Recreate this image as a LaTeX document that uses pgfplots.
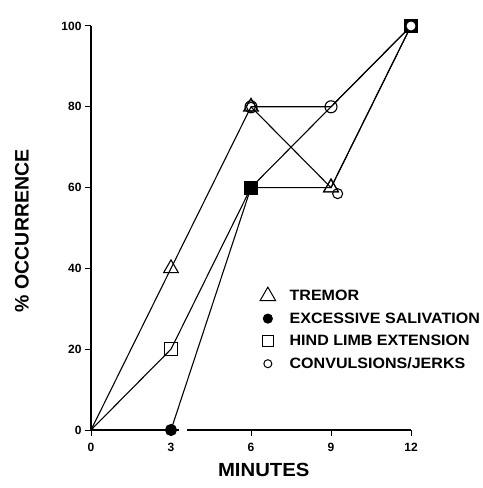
\documentclass[border=0pt]{standalone}
\usepackage{fontspec}
\setmainfont{Liberation Sans}
\newfontfamily\widefont[FakeStretch=1.07]{Liberation Sans}
\usepackage{pgfplots}
\pgfplotsset{compat=1.18}
\begin{document}
\begin{tikzpicture}
\path[use as bounding box] (-91bp,-58bp) rectangle (392bp,430bp);
\begin{axis}[
  scale only axis,
  width=320bp, height=404bp,
  xmin=0, xmax=12, ymin=0, ymax=100,
  clip=false,
  axis lines=left,
  axis line style={-, line width=1.5pt},
  x axis line style={draw=none},
  xtick={0,3,6,9,12}, ytick={0,20,40,60,80,100},
  tick align=outside,
  major tick length=6bp,
  tick style={line width=1pt, black},
  /pgf/number format/assume math mode=true,
  ticklabel style={font=\fontsize{12bp}{14bp}\selectfont\bfseries},
  xticklabel style={yshift=-4bp},
  xlabel={MINUTES},
  ylabel={\% OCCURRENCE},
  xlabel style={font=\widefont\fontsize{19bp}{21bp}\selectfont\bfseries, at={(axis description cs:0.54,-0.098)}, anchor=center},
  ylabel style={font=\fontsize{19.5bp}{21bp}\selectfont\bfseries, at={(axis description cs:-0.216,0.493)}, anchor=center},
  every axis plot/.append style={line width=1.1pt, black},
  legend style={at={(axis cs:6.22,35.9)}, anchor=north west, draw=none,
    fill=none, font=\widefont\fontsize{15bp}{17bp}\selectfont\bfseries,
    row sep=6.5bp, column sep=12bp},
  legend cell align=left,
]
\draw[line width=1.5pt] (axis cs:0,0) -- (axis cs:3.3,0);
\draw[line width=1.5pt] (axis cs:3.6,0) -- (axis cs:12,0);
% salivation line
\addplot[forget plot, mark=*, mark size=5.5bp, mark options={fill=black}, mark indices={1,2}]
  coordinates {(3,0) (6,60) (9,80) (12,100)};
% hind limb
\addplot[forget plot, mark=square, mark size=6.5bp, mark options={fill=white, line width=1.1pt}, mark indices={2,3}]
  coordinates {(0,0) (3,20) (6,60) (9,60) (12,100)};
% tremor
\addplot[forget plot, mark=triangle, mark size=8.5bp, mark options={fill=white, line width=1.1pt}, mark indices={2,3,4}]
  coordinates {(0,0) (3,40) (6,80) (9,60) (12,100)};
% convulsions
\addplot[forget plot, mark=o, mark size=6bp, mark options={fill=white, line width=1.1pt}, mark indices={1,2}]
  coordinates {(6,80) (9,80) (12,100)};
% overlay marks
\addplot[forget plot, only marks, mark=square*, mark size=6bp, mark options={fill=black}] coordinates {(6,60)};
\addplot[forget plot, only marks, mark=o, mark size=5bp, mark options={fill=white, line width=1.1pt}] coordinates {(9.25,58.5)};
\addplot[forget plot, only marks, mark=triangle, mark size=8.5bp, mark options={fill=white, line width=1.1pt}] coordinates {(9,60)};
\addplot[forget plot, only marks, mark=o, mark size=4.5bp, mark options={fill=white, line width=1.1pt}] coordinates {(6,80)};
\addplot[forget plot, only marks, mark=square*, mark size=6.5bp, mark options={fill=black}] coordinates {(12,100)};
\addplot[forget plot, only marks, mark=*, mark size=3.8bp, mark options={fill=white, draw=white}] coordinates {(12,100)};
% legend entries
\addlegendimage{only marks, mark=triangle, mark size=9bp, mark options={line width=1pt}}
\addlegendentry{TREMOR}
\addlegendimage{only marks, mark=*, mark size=4.5bp, mark options={fill=black}}
\addlegendentry{EXCESSIVE SALIVATION}
\addlegendimage{only marks, mark=square, mark size=5.3bp, mark options={line width=1pt}}
\addlegendentry{HIND LIMB EXTENSION}
\addlegendimage{only marks, mark=o, mark size=4bp, mark options={line width=1pt}}
\addlegendentry{CONVULSIONS/JERKS}
\end{axis}
\end{tikzpicture}
\end{document}
